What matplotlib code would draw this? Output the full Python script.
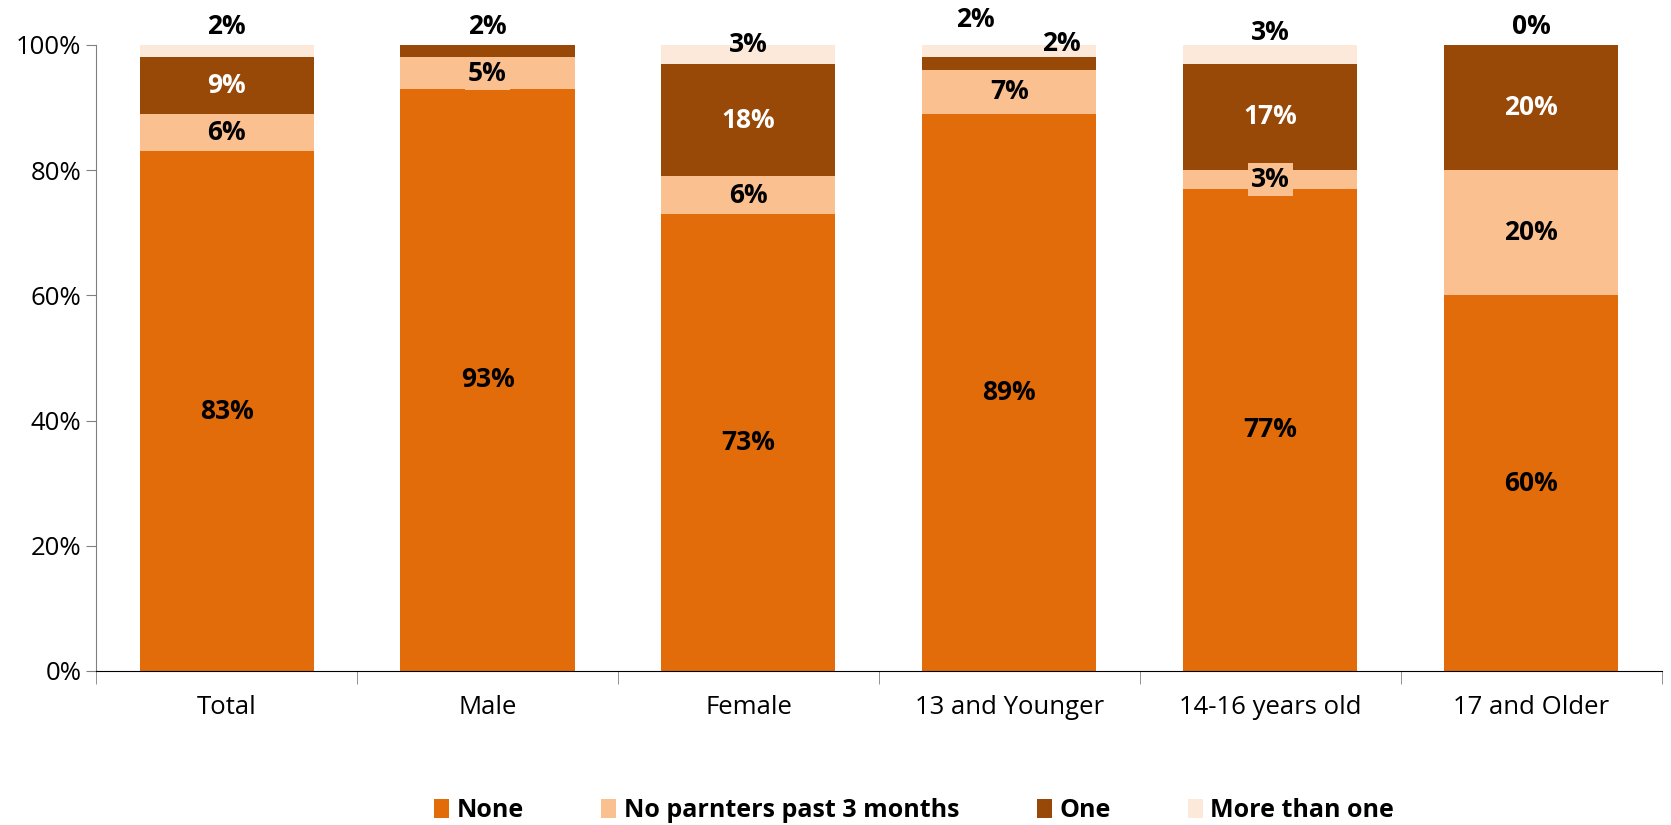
import numpy as np
import matplotlib.pyplot as plt
from matplotlib.ticker import PercentFormatter

plt.rcParams['font.family'] = ['Open Sans', 'DejaVu Sans']

# Share of respondents by number of partners
groups = ['Total', 'Male', 'Female', '13 and Younger', '14-16 years old', '17 and Older']
series = ['None', 'No parnters past 3 months', 'One', 'More than one']
none_vals = [83, 93, 73, 89, 77, 60]
no_recent = [6, 5, 6, 7, 3, 20]
one_vals = [9, 2, 18, 2, 17, 20]
more_vals = [2, 0, 3, 2, 3, 0]

colors = ['#E36C0A', '#FAC090', '#984807', '#FDE9D9']
text_colors = ['black', 'black', 'white', 'black']

fig = plt.figure(figsize=(16.71, 8.25), dpi=100)
ax = fig.add_axes([0.0575, 0.1867, 0.937, 0.7588])

x = np.arange(len(groups))
width = 0.667
values = [none_vals, no_recent, one_vals, more_vals]
bottom = np.zeros(len(groups))
for vals, name, col in zip(values, series, colors):
    v = np.array(vals) / 100
    ax.bar(x, v, width, bottom=bottom, color=col, label=name, linewidth=0)
    bottom += v

# label placement: (series index, group index) -> (dx, y) overrides
moved = {
    (3, 0): (0, 1.03), (2, 1): (0, 1.03), (3, 1): None,
    (3, 2): (0, 1.0), (3, 3): (-0.13, 1.04), (2, 3): (0.2, 1.003),
    (3, 4): (0, 1.02), (3, 5): (0, 1.03),
}
bottom = np.zeros(len(groups))
for si, vals in enumerate(values):
    v = np.array(vals) / 100
    for gi in range(len(groups)):
        key = (si, gi)
        ypos = bottom[gi] + v[gi] / 2
        dx = 0
        tc = text_colors[si]
        if key in moved:
            if moved[key] is None:
                continue
            dx, ypos = moved[key]
            tc = 'black'
        box = None
        if si == 1 and gi in (0, 1, 2, 4):
            box = dict(facecolor=colors[1], edgecolor='none', pad=2)
        ax.text(x[gi] + dx, ypos, f'{vals[gi]}%', ha='center', va='center',
                fontsize=19, fontweight='bold', color=tc, bbox=box)
    bottom += v

ax.set_xlim(-0.5, len(groups) - 0.5)
ax.set_ylim(0, 1)
ax.yaxis.set_major_formatter(PercentFormatter(1.0, decimals=0))
ax.set_yticks(np.arange(0, 1.01, 0.2))
ax.set_xticks(x)
ax.set_xticklabels(groups)
ax.set_xticks(np.arange(-0.5, len(groups)), minor=True)
ax.tick_params(axis='x', which='major', length=0, labelsize=18.5, pad=17)
ax.tick_params(axis='x', which='minor', length=9, color='#808080')
ax.tick_params(axis='y', length=7, color='#808080', labelsize=18.5)

for s in ['top', 'right']:
    ax.spines[s].set_visible(False)
ax.spines['left'].set_color('#808080')
ax.spines['bottom'].set_color('black')

leg = fig.legend(loc='lower center', bbox_to_anchor=(0.547, -0.025), ncol=4,
                 frameon=False, handlelength=0.6, handleheight=0.8,
                 handletextpad=0.3, columnspacing=3.1,
                 prop={'size': 18, 'weight': 'bold'})

fig.savefig('out.png', dpi=100)
